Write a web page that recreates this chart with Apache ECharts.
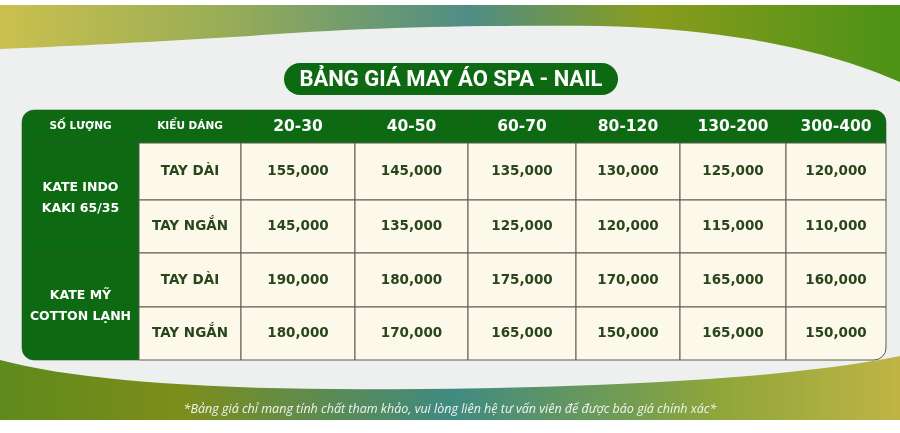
<!DOCTYPE html>
<html><head><meta charset="utf-8">
<script src="https://cdn.jsdelivr.net/npm/echarts@6/dist/echarts.min.js"></script>
<style>html,body{margin:0;padding:0;background:#fff}#c{width:900px;height:433px}</style>
</head><body><div id="c"></div>
<script>
const title = 'BẢNG GIÁ MAY ÁO SPA - NAIL';
const headerLabels = ['SỐ LƯỢNG', 'KIỂU DÁNG'];
const quantities = ['20-30', '40-50', '60-70', '80-120', '130-200', '300-400'];
const fabrics = ['KATE INDO\nKAKI 65/35', 'KATE MỸ\nCOTTON LẠNH'];
const styles = ['TAY DÀI', 'TAY NGẮN'];
const kateIndoLong = [155000, 145000, 135000, 130000, 125000, 120000];
const kateIndoShort = [145000, 135000, 125000, 120000, 115000, 110000];
const kateMyLong = [190000, 180000, 175000, 170000, 165000, 160000];
const kateMyShort = [180000, 170000, 165000, 150000, 165000, 150000];
const footnote = '*Bảng giá chỉ mang tính chất tham khảo, vui lòng liên hệ tư vấn viên để được báo giá chính xác*';

// layout (pixel-space axis edges)
const colEdges = [22, 139, 241, 355, 468, 576, 680, 786, 886];
const rowEdges = [110, 143, 200, 253, 307, 360];
const GREEN = '#0e6a12', CREAM = '#fdf9ea', LINE = '#5b5a4c', TXT = '#28451c';

const priceRows = [kateIndoLong, kateIndoShort, kateMyLong, kateMyShort];
const cells = [];
cells.push([0,1,0,1,headerLabels[0],'hsmall']);
cells.push([1,2,0,1,headerLabels[1],'hsmall']);
quantities.forEach((q,i)=>cells.push([i+2,i+3,0,1,q,'hbig']));
fabrics.forEach((f,i)=>cells.push([0,1,1+2*i,3+2*i,f,'group']));
priceRows.forEach((row,r)=>{
  cells.push([1,2,r+1,r+2,styles[r%2],'style']);
  row.forEach((v,i)=>cells.push([i+2,i+3,r+1,r+2,v.toLocaleString('en-US'),'price']));
});

function lin(stops){return {type:'linear',x:0,y:0,x2:1,y2:0,colorStops:stops.map(s=>({offset:s[0],color:s[1]}))};}
function curve(start, segs){
  const pts=[start]; let p=start;
  segs.forEach(s=>{for(let t=0.05;t<=1.0001;t+=0.05){const u=1-t;
    pts.push([u*u*p[0]+2*u*t*s[0]+t*t*s[2], u*u*p[1]+2*u*t*s[1]+t*t*s[3]]);} p=[s[2],s[3]];});
  return pts;
}
const topPts = [[0,5],[900,5]].concat(curve([900,82],[[780,30,600,26],[400,24,250,36],[120,44,0,49]]));
const botPts = curve([0,360],[[120,392,420,389],[750,386,900,356]]).concat([[900,420],[0,420]]);

const fontFam = '"DejaVu Sans", sans-serif';
function renderItem(params, api) {
  const d = cells[params.dataIndex];
  const p0 = api.coord([colEdges[d[0]], rowEdges[d[2]]]);
  const p1 = api.coord([colEdges[d[1]], rowEdges[d[3]]]);
  const x = p0[0], y = p0[1], w = p1[0]-p0[0], h = p1[1]-p0[1];
  const kind = d[5];
  const isGreen = kind==='hsmall'||kind==='hbig'||kind==='group';
  const R = 12;
  const lastCol = d[1]===colEdges.length-1, lastRow = d[3]===rowEdges.length-1;
  const r = [
    (d[0]===0&&d[2]===0)?R:0,
    (lastCol&&d[2]===0)?R:0,
    (lastCol&&lastRow)?R:0,
    (d[0]===0&&lastRow)?R:0];
  const fs = kind==='hsmall'?10.5:(kind==='hbig'?15.5:(kind==='group'?12.5:13.5));
  return {
    type:'group',
    children:[
      {type:'rect', shape:{x,y,width:w,height:h,r},
       style:{fill:isGreen?GREEN:CREAM, stroke:isGreen?'#2a5a22':LINE, lineWidth:isGreen?0.6:1}},
      {type:'text', style:{x:x+w/2,y:y+h/2,text:d[4],align:'center',verticalAlign:'middle',
        fill:isGreen?'#ffffff':TXT, font:`bold ${fs}px ${fontFam}`, lineHeight:21}}
    ]
  };
}

const chart = echarts.init(document.getElementById('c'));
chart.setOption({
  backgroundColor:'#eef0ef',
  animation:false,
  grid:{left:0,right:0,top:0,bottom:0},
  xAxis:{type:'value',min:0,max:900,show:false},
  yAxis:{type:'value',min:0,max:433,inverse:true,show:false},
  graphic:[
    {type:'rect',z:-10,shape:{x:0,y:0,width:900,height:5},style:{fill:'#ffffff'}},
    {type:'polygon',z:-9,shape:{points:topPts},
     style:{fill:lin([[0,'#cbc04e'],[0.25,'#98ad56'],[0.52,'#4f8d85'],[0.72,'#8a9c1e'],[1,'#4b9216']])}},
    {type:'polygon',z:-9,shape:{points:botPts},
     style:{fill:lin([[0,'#5f8a1c'],[0.2,'#7d8d1a'],[0.5,'#3f8a82'],[0.8,'#8fa63a'],[1,'#c0b445']])}},
    {type:'rect',z:-8,shape:{x:0,y:420,width:900,height:13},style:{fill:'#ffffff'}},
    {type:'rect',shape:{x:284,y:63,width:334,height:32,r:16},style:{fill:GREEN}},
    {type:'text',style:{x:451,y:80,text:title,align:'center',verticalAlign:'middle',
      fill:'#ffffff',font:'700 22px Roboto, sans-serif'}},
    {type:'text',style:{x:450,y:409,text:footnote,align:'center',verticalAlign:'middle',
      fill:'#f2f4ee',font:'italic 12.5px "Open Sans", sans-serif'}}
  ],
  series:[{type:'custom',renderItem,data:cells.map((c,i)=>[i]),clip:false}]
});
</script></body></html>
